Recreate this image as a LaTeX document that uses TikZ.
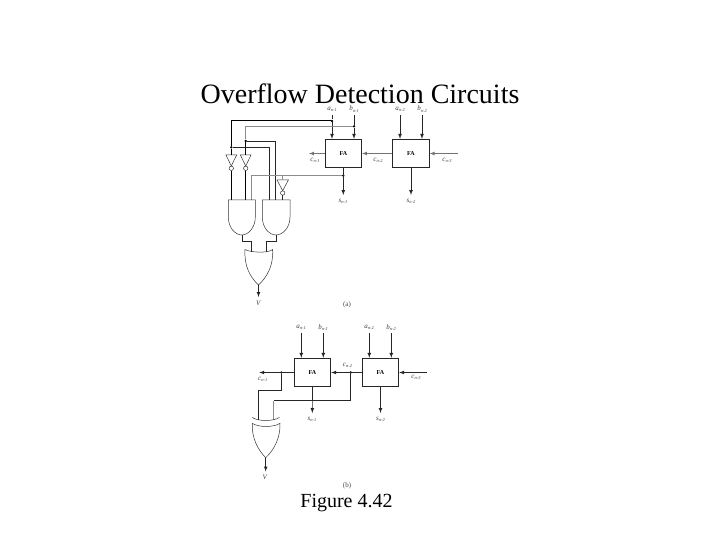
\documentclass[tikz,border=0pt]{standalone}
\usepackage{fontspec}
\setmainfont{Liberation Serif}
\newcommand{\sublbl}[2]{\textit{#1}\raisebox{-1.2pt}{\fontsize{4.5}{5}\selectfont\textit{#2}}}
\tikzset{
  wire/.style={line width=0.7pt,black!85},
  thick wire/.style={line width=1pt,black},
  pale wire/.style={line width=0.7pt,black!45},
  arrow wire/.style={wire,->,>=latex},
  gate/.style={line width=0.5pt,black!80},
  fa/.style={draw=black!85,line width=0.8pt,fill=white,minimum width=36.5pt,minimum height=28.5pt,inner sep=0pt,font=\fontsize{6}{7}\selectfont\bfseries},
  dot/.style={circle,fill=black,inner sep=0pt,minimum size=2.6pt},
  bubble/.style={circle,draw=black!80,line width=0.5pt,fill=white,inner sep=0pt,minimum size=4.4pt},
  lbl/.style={inner sep=0pt,text=black!75,font=\fontsize{7}{8}\selectfont},
  title/.style={inner sep=0pt,font=\fontsize{28}{32}\selectfont},
  caption/.style={inner sep=0pt,font=\fontsize{20}{24}\selectfont}
}
\begin{document}
\begin{tikzpicture}[x=1pt,y=-1pt]
    \useasboundingbox[fill=white] (0,0) rectangle (720,540);
    \node[title] (heading) at (360,94) {Overflow Detection Circuits};
    \node[caption] (figure) at (346.5,503.5) {Figure 4.42};

    % part (a)
    \node[fa] (faA) at (343.3,153.5) {FA};
    \node[fa] (faB) at (411,153.5) {FA};
    \node[lbl] (an1) at (332,109.5) {\sublbl{a}{n-1}};
    \node[lbl] (bn1) at (354,109) {\sublbl{b}{n-1}};
    \node[lbl] (an2) at (400,109) {\sublbl{a}{n-2}};
    \node[lbl] (bn2) at (422,109) {\sublbl{b}{n-2}};
    \node[lbl] (cn1) at (315,160) {\sublbl{c}{n-1}};
    \node[lbl] (cn2) at (378,160) {\sublbl{c}{n-2}};
    \node[lbl] (cn3) at (447,160) {\sublbl{c}{n-3}};
    \node[lbl] (sn1) at (343,201) {\sublbl{s}{n-1}};
    \node[lbl] (sn2) at (411,201) {\sublbl{s}{n-2}};
    \node[lbl] (V) at (258.5,303) {\textit{V}};
    \node[lbl] (parta) at (347,305) {(a)};
    \node[dot] (da) at (332,121) {};
    \node[dot] (db) at (354,126.3) {};
    \node[dot] (dbl) at (245.7,141) {};
    \node[dot] (dal) at (231.3,147.3) {};
    \node[dot] (ds) at (343.3,175.7) {};
    \node[bubble] (invA) at (231.3,168.3) {};
    \node[bubble] (invB) at (245.7,168.3) {};
    \node[bubble] (invC) at (282.7,193) {};
    \coordinate (ta) at (332,115);
    \coordinate (tb) at (354,115);
    \coordinate (tc) at (400,115);
    \coordinate (td) at (422,115);
    \coordinate (cin) at (458,153.5);
    \coordinate (cout) at (309,153.5);
    \coordinate (sa) at (343.3,195);
    \coordinate (sb) at (411,195);

    \draw[gate,fill=white] (226,155) -- (236.6,155) -- (231.3,166) -- cycle;
    \draw[gate,fill=white] (240.4,155) -- (251,155) -- (245.7,166) -- cycle;
    \draw[gate,fill=white] (277,180) -- (288.4,180) -- (282.7,190.7) -- cycle;

    \draw[wire] (ta) -- (da);
    \draw[arrow wire] (da) -- (faA.north -| da);
    \draw[wire] (tb) -- (db);
    \draw[arrow wire] (db) -- (faA.north -| db);
    \draw[arrow wire] (tc) -- (faB.north -| tc);
    \draw[arrow wire] (td) -- (faB.north -| td);
    \draw[arrow wire,black!55] (cin) -- (faB.east);
    \draw[arrow wire,black!55] (faB.west) -- (faA.east);
    \draw[arrow wire,black!55] (faA.west) -- (cout);
    \draw[arrow wire] (faA.south) -- (sa);
    \draw[arrow wire] (faB.south) -- (sb);

    \draw[thick wire] (da) -| (dal) -- (231.3,155);
    \draw[thick wire] (invA) -- (231.3,200);
    \draw[pale wire] (db) -| (dbl);
    \draw[thick wire] (dbl) -- (245.7,155);
    \draw[thick wire] (invB) -- (245.7,200);
    \draw[wire] (dbl) -| (275,200);
    \draw[wire] (dal) -| (269.3,200);
    \draw[pale wire] (ds) -| (251.7,200);
    \draw[pale wire] (282.7,175.7) -- (282.7,180);
    \draw[wire] (invC) -- (282.7,200);

    \draw[gate] (228.3,200) -- (255.3,200) -- (255.3,217) .. controls (255.3,228) and (248,235) .. (241.8,235) .. controls (235.5,235) and (228.3,228) .. (228.3,217) -- cycle;
    \draw[gate] (262.3,200) -- (290,200) -- (290,217) .. controls (290,228) and (282.5,235) .. (276,235) .. controls (269.5,235) and (262.3,228) .. (262.3,217) -- cycle;
    \draw[wire] (242.7,235) |- (251.3,241.7) -- (251.3,251.5);
    \draw[wire] (276,235) |- (266.7,241.7) -- (266.7,251.5);
    \draw[gate] (245,249.5) .. controls (250,252.5) and (268,253.5) .. (272.7,249.5) .. controls (273.5,266) and (267,277) .. (258.5,285) .. controls (250,277) and (244,266) .. (245,249.5) -- cycle;
    \coordinate (orout) at (258.5,285);
    \coordinate (vend) at (258.5,297);
    \draw[arrow wire] (orout) -- (vend);

    % part (b)
    \node[fa] (fbA) at (312.5,372.5) {FA};
    \node[fa] (fbB) at (380.5,372.5) {FA};
    \node[lbl] (ban1) at (301,327.5) {\sublbl{a}{n-1}};
    \node[lbl] (bbn1) at (323,327.5) {\sublbl{b}{n-1}};
    \node[lbl] (ban2) at (369,327.5) {\sublbl{a}{n-2}};
    \node[lbl] (bbn2) at (391,327.5) {\sublbl{b}{n-2}};
    \node[lbl] (bcn1) at (262.7,379) {\sublbl{c}{n-1}};
    \node[lbl] (bcn2) at (347.5,365.5) {\sublbl{c}{n-2}};
    \node[lbl] (bcn3) at (416,377) {\sublbl{c}{n-3}};
    \node[lbl] (bsn1) at (312,419.5) {\sublbl{s}{n-1}};
    \node[lbl] (bsn2) at (380.5,419.5) {\sublbl{s}{n-2}};
    \node[lbl] (bV) at (265,477) {\textit{V}};
    \node[lbl] (partb) at (347,485.5) {(b)};
    \node[dot] (dc) at (350.7,372.5) {};
    \node[dot] (dd) at (281.3,372.5) {};
    \coordinate (ba) at (301.3,333);
    \coordinate (bb) at (323.3,333);
    \coordinate (bc) at (369.3,333);
    \coordinate (bd) at (391.3,333);
    \coordinate (bcin) at (427,372.5);
    \coordinate (bcout) at (259.3,372.5);
    \coordinate (bsa) at (312.3,413);
    \coordinate (bsb) at (380.5,413);
    \coordinate (xorout) at (265.7,457.7);
    \coordinate (bvend) at (265.7,471.5);

    \draw[arrow wire] (ba) -- (fbA.north -| ba);
    \draw[arrow wire] (bb) -- (fbA.north -| bb);
    \draw[arrow wire] (bc) -- (fbB.north -| bc);
    \draw[arrow wire] (bd) -- (fbB.north -| bd);
    \draw[arrow wire] (bcin) -- (fbB.east);
    \draw[arrow wire] (fbB.west) -- (fbA.east);
    \draw[arrow wire] (fbA.west) -- (bcout);
    \draw[arrow wire] (fbA.south) -- (bsa);
    \draw[arrow wire] (fbB.south) -- (bsb);
    \draw[wire] (dd) |- (258.3,390) -- (258.3,420);
    \draw[wire] (dc) |- (273.7,400.5);
    \draw[pale wire] (273.7,400.5) -- (273.7,420);

    \draw[gate] (252.3,417.5) .. controls (258,421.5) and (273,421.5) .. (279.5,417.5);
    \draw[gate] (252.3,423.3) .. controls (258,427.5) and (274,427.5) .. (280,423.3) .. controls (280.5,438) and (274,450) .. (265.7,457.7) .. controls (258,450) and (251.5,438) .. (252.3,423.3) -- cycle;
    \draw[arrow wire] (xorout) -- (bvend);
  \end{tikzpicture}
\end{document}
